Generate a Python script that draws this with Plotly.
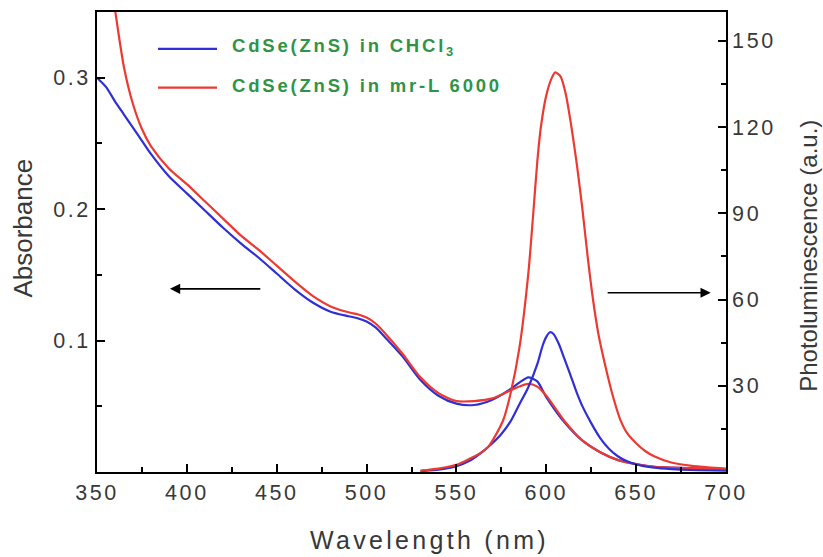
import plotly.graph_objects as go

# ---------------- data ----------------
wl_abs = [350, 355, 360, 365, 370, 375, 380, 390, 400, 410, 420, 430, 440, 450, 460, 470,
          480, 490, 495, 500, 505, 510, 520, 530, 540, 550, 560, 570, 580, 585, 590, 595,
          600, 610, 620, 630, 640, 650, 660, 680, 700]
abs_chcl3 = [0.300, 0.293, 0.282, 0.272, 0.262, 0.252, 0.242, 0.225, 0.212, 0.199, 0.186,
             0.174, 0.163, 0.151, 0.139, 0.129, 0.122, 0.1185, 0.117, 0.1145, 0.110, 0.103,
             0.088, 0.070, 0.058, 0.052, 0.051, 0.055, 0.063, 0.068, 0.072, 0.069, 0.057,
             0.038, 0.024, 0.015, 0.009, 0.006, 0.004, 0.003, 0.002]
abs_mrl = [0.460, 0.400, 0.352, 0.308, 0.280, 0.261, 0.248, 0.231, 0.219, 0.206, 0.193,
           0.180, 0.169, 0.157, 0.145, 0.134, 0.126, 0.1215, 0.120, 0.1175, 0.113, 0.106,
           0.090, 0.072, 0.060, 0.054, 0.054, 0.056, 0.062, 0.065, 0.067, 0.065, 0.058,
           0.039, 0.024, 0.015, 0.009, 0.006, 0.004, 0.003, 0.002]

wl_pl_blue = [530, 540, 550, 557, 565, 570, 575, 580, 585, 590, 595, 598, 600, 602, 604,
              607, 610, 613, 617, 620, 625, 630, 635, 640, 645, 650, 660, 670, 680, 700]
pl_chcl3 = [0.3, 0.8, 2.0, 3.8, 7.3, 10.0, 13.2, 17.5, 23.5, 29.5, 37.5, 44.0, 47.0, 48.6,
            48.0, 44.5, 39.5, 34.5, 27.5, 23.0, 17.0, 11.8, 8.0, 5.4, 3.7, 2.6, 1.5, 1.0,
            0.7, 0.5]

wl_pl_red = [530, 540, 550, 557, 563, 568, 572, 576, 580, 585, 590, 593, 595, 597, 600,
             603, 605, 608, 611, 614, 617, 620, 623, 626, 629, 633, 637, 641, 645, 650,
             655, 660, 670, 680, 690, 700]
pl_mrl = [0.5, 1.2, 2.5, 4.5, 6.5, 9.0, 13.0, 18.0, 27.0, 43.0, 69.0, 92.0, 108.0, 120.0,
          131.0, 137.0, 139.0, 137.5, 131.0, 120.0, 107.0, 92.0, 75.0, 60.0, 48.0, 36.5,
          26.5, 18.5, 13.5, 10.0, 7.3, 5.5, 3.2, 2.2, 1.6, 1.2]

x_ticks = [350, 400, 450, 500, 550, 600, 650, 700]
y_abs_ticks = [0.1, 0.2, 0.3]
y_pl_ticks = [30, 60, 90, 120, 150]

legend_names = ["CdSe(ZnS) in CHCl<sub>3</sub>", "CdSe(ZnS) in mr-L 6000"]

BLUE = "#2f2fd6"
RED = "#ec3a32"
GREEN = "#2f9446"
TXT = "#383838"


def spaced(s, px):
    return f'<span style="letter-spacing:{px}px">{s}</span>'


fig = go.Figure()
line_w = 2.2
sp = dict(shape="spline", smoothing=0.7)
fig.add_trace(go.Scatter(x=wl_abs, y=abs_chcl3, mode="lines", line=dict(color=BLUE, width=line_w, **sp), showlegend=False))
fig.add_trace(go.Scatter(x=wl_abs, y=abs_mrl, mode="lines", line=dict(color=RED, width=line_w, **sp), showlegend=False))
fig.add_trace(go.Scatter(x=wl_pl_blue, y=pl_chcl3, mode="lines", yaxis="y2", line=dict(color=BLUE, width=line_w, **sp), showlegend=False))
fig.add_trace(go.Scatter(x=wl_pl_red, y=pl_mrl, mode="lines", yaxis="y2", line=dict(color=RED, width=line_w, **sp), showlegend=False))

tickfont = dict(family="Liberation Sans, Arial", size=21.5, color=TXT)

fig.update_layout(
    width=823, height=557,
    margin=dict(l=97, r=97, t=10, b=85),
    paper_bgcolor="white", plot_bgcolor="white",
    xaxis=dict(range=[350, 700], tickmode="array", tickvals=x_ticks,
               ticktext=[spaced(str(v), 2.6) for v in x_ticks],
               ticks="inside", ticklen=8, tickwidth=1.5, tickcolor="black",
               minor=dict(tickmode="array", tickvals=[375, 425, 475, 525, 575, 625, 675],
                          ticks="inside", ticklen=5, tickwidth=1.5, tickcolor="black"),
               showline=True, linecolor="black", linewidth=1.6, mirror=True,
               showgrid=False, zeroline=False, tickfont=tickfont),
    yaxis=dict(range=[0, 0.35], tickmode="array", tickvals=y_abs_ticks,
               ticktext=[spaced(str(v), 2.6) for v in y_abs_ticks],
               ticks="inside", ticklen=8, tickwidth=1.5, tickcolor="black",
               minor=dict(tickmode="array", tickvals=[0.05, 0.15, 0.25],
                          ticks="inside", ticklen=5, tickwidth=1.5, tickcolor="black"),
               showline=True, linecolor="black", linewidth=1.6,
               showgrid=False, zeroline=False, tickfont=tickfont),
    yaxis2=dict(range=[0, 160], overlaying="y", side="right", tickmode="array",
                tickvals=y_pl_ticks, ticktext=[spaced(str(v), 2.6) for v in y_pl_ticks],
                ticks="inside", ticklen=8, tickwidth=1.5, tickcolor="black",
                minor=dict(tickmode="array", tickvals=[15, 45, 75, 105, 135],
                           ticks="inside", ticklen=5, tickwidth=1.5, tickcolor="black"),
                showline=True, linecolor="black", linewidth=1.6,
                showgrid=False, zeroline=False, tickfont=tickfont),
)

titlefont = dict(family="Liberation Sans, Arial", size=25, color=TXT)
annotations = [
    dict(text=spaced("Wavelength (nm)", 3.3), x=0.529, y=-0.147, xref="paper", yref="paper",
         showarrow=False, font=titlefont, xanchor="center", yanchor="middle"),
    dict(text="Absorbance", x=-0.117, y=0.53, xref="paper", yref="paper", textangle=-90,
         showarrow=False, font=dict(family="Liberation Sans, Arial", size=26, color=TXT),
         xanchor="center", yanchor="middle"),
    dict(text="Photoluminescence (a.u.)", x=1.132, y=0.47, xref="paper", yref="paper",
         textangle=-90, showarrow=False,
         font=dict(family="Liberation Sans, Arial", size=24, color=TXT),
         xanchor="center", yanchor="middle"),
    # arrows
    dict(x=390.6, y=0.1394, ax=441.7, ay=0.1394, xref="x", yref="y", axref="x", ayref="y",
         text="", showarrow=True, arrowhead=2, arrowsize=1.2, arrowwidth=1.7, arrowcolor="black"),
    dict(x=691.5, y=0.1364, ax=633.3, ay=0.1364, xref="x", yref="y", axref="x", ayref="y",
         text="", showarrow=True, arrowhead=2, arrowsize=1.2, arrowwidth=1.7, arrowcolor="black"),
]

# manual legend
leg_y = [(472 - 47) / 462, (472 - 86) / 462]
leg_x0, leg_x1, txt_x = (158 - 97) / 629, (217 - 97) / 629, (230 - 97) / 629
shapes = []
for name, col, yy in zip(legend_names, [BLUE, RED], leg_y):
    shapes.append(dict(type="line", xref="paper", yref="paper", x0=leg_x0, x1=leg_x1,
                       y0=yy, y1=yy, line=dict(color=col, width=2.2)))
    annotations.append(dict(text="<b>" + spaced(name, 2.8) + "</b>", x=txt_x, y=yy + 0.004,
                            xref="paper", yref="paper", showarrow=False, xanchor="left",
                            yanchor="middle",
                            font=dict(family="Liberation Sans, Arial", size=18.5, color=GREEN)))

fig.update_layout(annotations=annotations, shapes=shapes)
fig.write_html("out.html")
